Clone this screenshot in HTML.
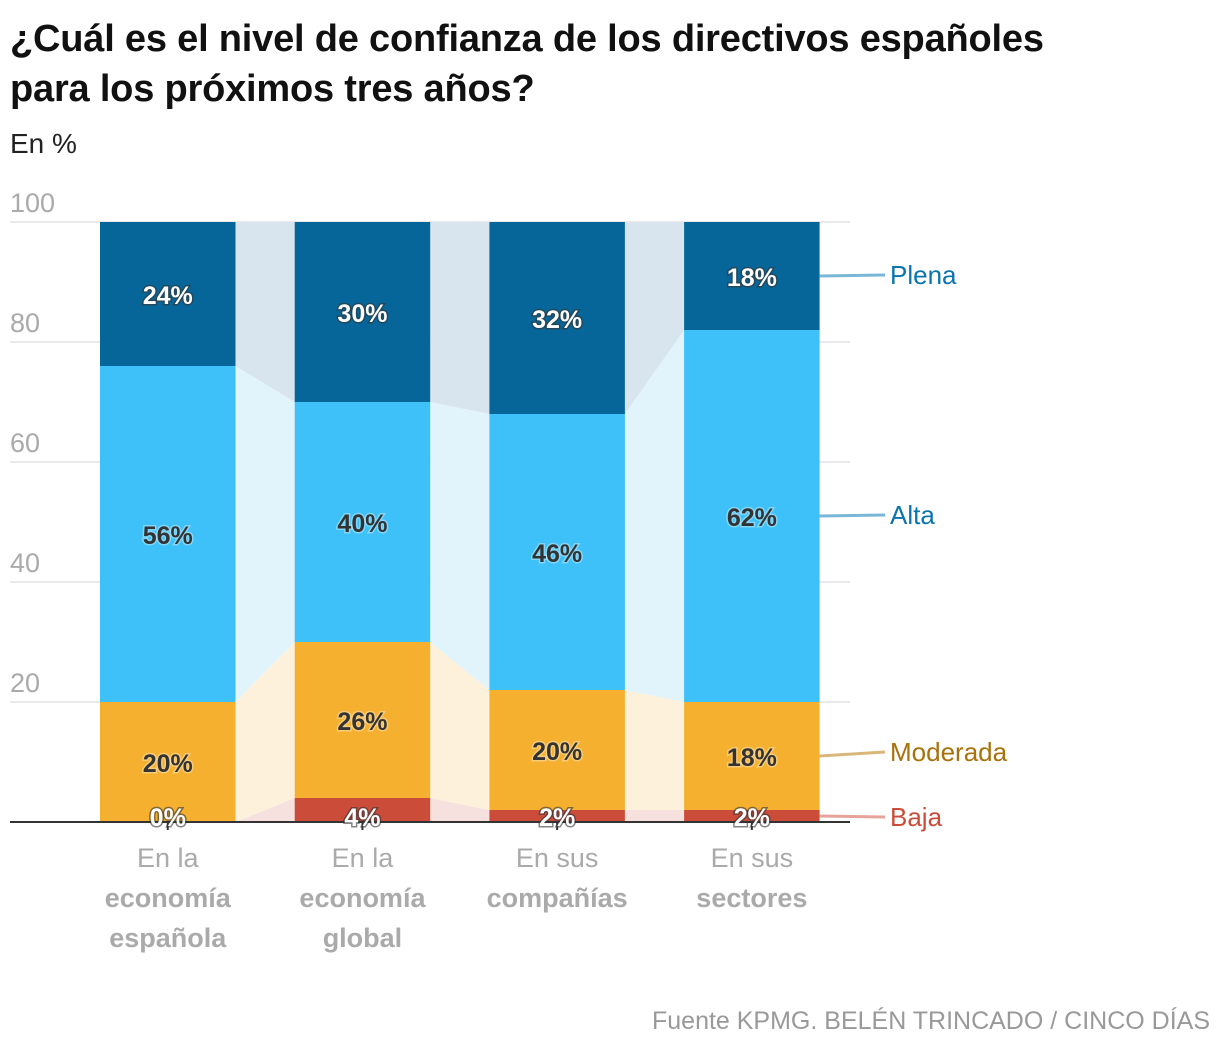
<!DOCTYPE html>
<html><head><meta charset="utf-8"><style>
body{margin:0;background:#fff;width:1220px;height:1052px;overflow:hidden;font-family:"Liberation Sans",sans-serif}
h1{position:absolute;left:10px;top:14px;margin:0;font-size:38px;line-height:50px;font-weight:bold;color:#111;width:1120px;letter-spacing:-0.2px}
.sub{position:absolute;left:10px;top:128px;font-size:28px;color:#222}
.src{position:absolute;right:10px;top:1007px;font-size:25px;color:#999}
</style></head><body>
<h1>¿Cuál es el nivel de confianza de los directivos españoles para los próximos tres años?</h1>
<div class="sub">En %</div>
<svg id="c" width="1220" height="1052" style="position:absolute;left:0;top:0"></svg>
<div class="src">Fuente KPMG. BELÉN TRINCADO / CINCO DÍAS</div>
<script>
const categories=[["En la","economía","española"],["En la","economía","global"],["En sus","compañías"],["En sus","sectores"]];
const baja=[0,4,2,2];
const moderada=[20,26,20,18];
const alta=[56,40,46,62];
const plena=[24,30,32,18];
const ticks=[20,40,60,80,100];
const seriesNames=["Baja","Moderada","Alta","Plena"];
const series=[baja,moderada,alta,plena];
const colors=["#cc4c3a","#f5b02f","#3ec0f8","#066699"];
const light=["#f7e1de","#fdf1dc","#e1f4fb","#d8e5ef"];
const legendText=["#cc4c3a","#a8710a","#0a74ae","#0a74ae"];
const legendLine=["#e6a39a","#d9b77a","#7ab6d6","#7ab6d6"];
const svg=document.getElementById('c');const NS="http://www.w3.org/2000/svg";
const y=v=>822-v*6;
const x0=i=>100+i*194.7, bw=135.5;
function el(t,a,p){const e=document.createElementNS(NS,t);for(const k in a)e.setAttribute(k,a[k]);(p||svg).appendChild(e);return e;}
ticks.forEach(t=>{
 const g=el('line',{x1:10,x2:850,y1:y(t),y2:y(t),stroke:'#e2e2e2','stroke-width':1.5});
 
 
 const tx=el('text',{x:10,y:y(t)-10,'font-size':27,fill:'#aaa'});tx.textContent=t;
 
 
});
const cum=categories.map((_,i)=>{let s=0;return series.map(a=>{const b=s;s+=a[i];return [b,s];});});
series.forEach((a,si)=>{for(let i=0;i<categories.length-1;i++){
 const xa=x0(i)+bw,xb=x0(i+1);const A=cum[i][si],B=cum[i+1][si];
 const p=el('polygon',{points:`${xa},${y(A[0])} ${xa},${y(A[1])} ${xb},${y(B[1])} ${xb},${y(B[0])}`,fill:light[si]});
 
 
}});
series.forEach((a,si)=>{categories.forEach((c,i)=>{
 const [b,t]=cum[i][si];
 const r=el('rect',{x:x0(i),y:y(t),width:bw,height:(t-b)*6,fill:colors[si]});
 
 
})});
el('line',{x1:10,x2:850,y1:822,y2:822,stroke:'#333','stroke-width':2});
categories.forEach((c,i)=>{el('line',{x1:x0(i)+bw/2,x2:x0(i)+bw/2,y1:822,y2:830,stroke:'#333','stroke-width':2});});
series.forEach((a,si)=>{categories.forEach((c,i)=>{
 const [b,t]=cum[i][si];const cx=x0(i)+bw/2;
 const cy=si===0?y(0)+4:y((b+t)/2)+10;
 const dark=(si===1||si===2);
 const tx=el('text',{x:cx,y:cy,'text-anchor':'middle','font-size':25,'font-weight':'bold',fill:dark?'#333':'#fff',stroke:dark?'#fff':'#333','stroke-width':3,'stroke-opacity':dark?0.35:0.6,'paint-order':'stroke'});
 tx.textContent=a[i]+'%';
 
 
})});
categories.forEach((c,i)=>{c.forEach((w,k)=>{
 const tx=el('text',{x:x0(i)+bw/2,y:867+k*40,'text-anchor':'middle','font-size':27,fill:'#aaa','font-weight':k?'bold':'normal'});
 tx.textContent=w;
 
 
})});
const last=categories.length-1;const lx=x0(last)+bw;
const ly=[817,752,515,275];
series.forEach((a,si)=>{
 const [b,t]=cum[last][si];
 el('line',{x1:lx,y1:y((b+t)/2),x2:885,y2:ly[si],stroke:legendLine[si],'stroke-width':3});
 const tx=el('text',{x:890,y:ly[si]+9,'font-size':26,fill:legendText[si]});tx.textContent=seriesNames[si];
 
 
});
</script>
</body></html>
